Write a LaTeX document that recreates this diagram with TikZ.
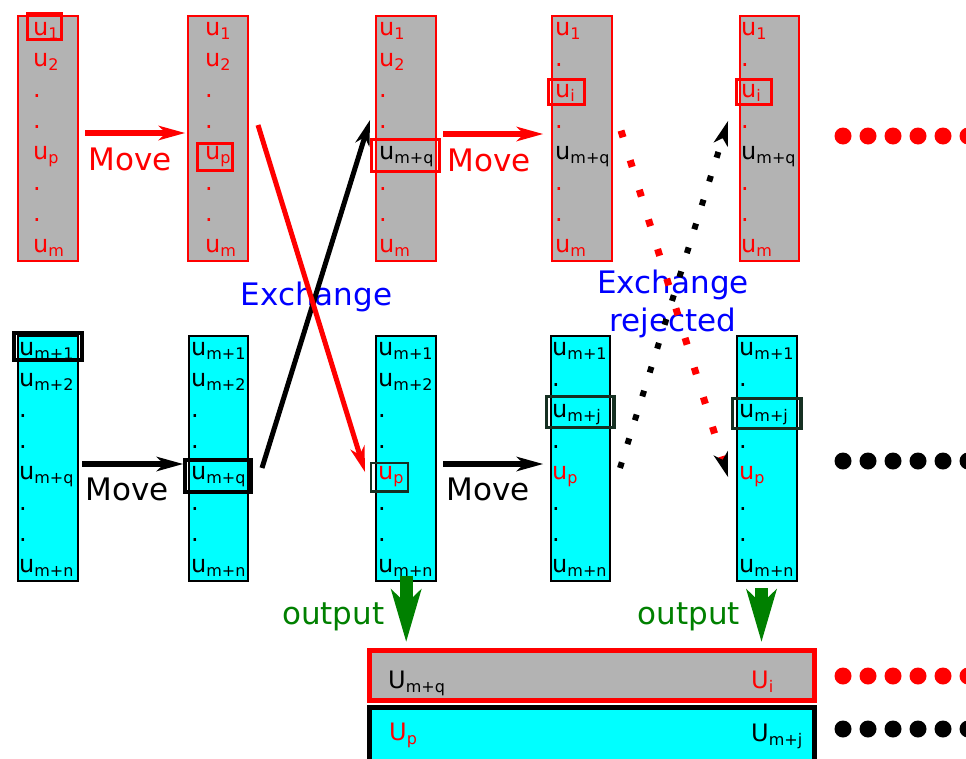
\documentclass[tikz,border=0pt]{standalone}
\usepackage{fontspec}
\setmainfont{DejaVu Sans}
\usetikzlibrary{arrows.meta}
\definecolor{boxgray}{RGB}{179,179,179}
\definecolor{boxcyan}{RGB}{0,255,255}
\definecolor{outgreen}{RGB}{0,128,0}
\definecolor{hldark}{RGB}{22,48,34}
% lowered, smaller index text
\newcommand\sbs[1]{\raisebox{-4pt}{\fontsize{16}{16}\selectfont #1}}
\newcommand\dt{.}
% eight entries of one column: name prefix, x, first baseline, colour, entries
\newcommand\colitems[5]{%
  \foreach \t [count=\k] in {#5}{%
    \pgfmathsetmacro\yy{#3+31*(\k-1)}%
    \node[cell, text=#4] (#1\k) at (#2,\yy) {\t};
  }}
\begin{document}
\begin{tikzpicture}[x=1pt,y=-1pt,
  topcol/.style={draw=red, fill=boxgray, line width=2pt, minimum width=59.5pt, minimum height=245pt, inner sep=0pt},
  botcol/.style={draw=black, fill=boxcyan, line width=2pt, minimum width=59.5pt, minimum height=245pt, inner sep=0pt},
  hlred/.style={draw=red, line width=3pt, inner sep=0pt},
  hlblack/.style={draw=black, line width=4pt, inner sep=0pt},
  hldk/.style={draw=hldark, line width=3.5pt, inner sep=0pt},
  cell/.style={anchor=base west, inner sep=0pt, font=\fontsize{24}{28}\selectfont},
  lbl/.style={anchor=base, inner sep=0pt, font=\fontsize{31}{38.4}\selectfont},
  mvarrow/.style={line width=6pt, -{Stealth[length=27pt,width=15pt,inset=8pt,line width=0pt]}},
  xarrow/.style={line width=5pt, -{Stealth[length=26pt,width=15pt,inset=8pt,line width=0pt]}},
  reddots/.style={red, line width=7pt, dash pattern=on 7pt off 24pt, -{Stealth[length=25pt,width=15pt,inset=7pt,line width=0pt,color=black]}},
  blackdots/.style={black, line width=6pt, dash pattern=on 6pt off 19pt, -{Stealth[length=25pt,width=15pt,inset=7pt,line width=0pt]}},
  outarrow/.style={outgreen, line width=13pt, -{Stealth[length=53pt,width=31pt,inset=15pt,line width=0pt]}},
]
\useasboundingbox (0,0) rectangle (966,758);
\clip (0,0) rectangle (966,758);

% columns
\node[topcol] (t1) at (47.85,138.3) {};
\node[topcol] (t2) at (218.2,138.3) {};
\node[topcol] (t3) at (406.2,138.3) {};
\node[topcol] (t4) at (582,138.3) {};
\node[topcol] (t5) at (769.5,138.3) {};
\node[botcol] (b1) at (47.85,458.3) {};
\node[botcol] (b2) at (218.5,458.3) {};
\node[botcol] (b3) at (406.2,458.3) {};
\node[botcol] (b4) at (580.4,458.3) {};
\node[botcol] (b5) at (767.2,458.3) {};

% selected entries
\node[hlred, minimum width=34.6pt, minimum height=25.7pt] (h1) at (44.5,26.65) {};
\node[hlred, minimum width=35.3pt, minimum height=27.6pt] (h2) at (214.85,157) {};
\node[hlred, minimum width=68pt, minimum height=32pt] (h3) at (405.5,155.5) {};
\node[hlred, minimum width=36pt, minimum height=25.3pt] (h4) at (566.2,91.85) {};
\node[hlred, minimum width=34.7pt, minimum height=25.3pt] (h5) at (753.85,91.85) {};
\node[hlblack, minimum width=68.3pt, minimum height=27.3pt] (g1) at (47.85,346.65) {};
\node[hlblack, minimum width=66.6pt, minimum height=32pt] (g2) at (218,476) {};
\node[hldk, line width=2.5pt, minimum width=36.6pt, minimum height=28.5pt] (g3) at (389.5,477.25) {};
\node[hldk, minimum width=67.5pt, minimum height=30.8pt] (g4) at (580.45,412.1) {};
\node[hldk, minimum width=68.3pt, minimum height=29.8pt] (g5) at (766.85,413.4) {};

% column entries
\colitems{t1r}{33}{35}{red}{u\sbs{1},u\sbs{2},\dt,\dt,u\sbs{p},\dt,\dt,u\sbs{m}}
\colitems{t2r}{205}{35}{red}{u\sbs{1},u\sbs{2},\dt,\dt,u\sbs{p},\dt,\dt,u\sbs{m}}
\colitems{t3r}{379}{35}{red}{u\sbs{1},u\sbs{2},\dt,\dt,{\color{black}u\sbs{m+q}},\dt,\dt,u\sbs{m}}
\colitems{t4r}{555}{35}{red}{u\sbs{1},\dt,u\sbs{i},\dt,{\color{black}u\sbs{m+q}},\dt,\dt,u\sbs{m}}
\colitems{t5r}{741}{35}{red}{u\sbs{1},\dt,u\sbs{i},\dt,{\color{black}u\sbs{m+q}},\dt,\dt,u\sbs{m}}
\colitems{b1r}{19}{355}{black}{u\sbs{m+1},u\sbs{m+2},\dt,\dt,u\sbs{m+q},\dt,\dt,u\sbs{m+n}}
\colitems{b2r}{191}{355}{black}{u\sbs{m+1},u\sbs{m+2},\dt,\dt,u\sbs{m+q},\dt,\dt,u\sbs{m+n}}
\colitems{b3r}{378}{355}{black}{u\sbs{m+1},u\sbs{m+2},\dt,\dt,{\color{red}u\sbs{p}},\dt,\dt,u\sbs{m+n}}
\colitems{b4r}{552}{355}{black}{u\sbs{m+1},\dt,u\sbs{m+j},\dt,{\color{red}u\sbs{p}},\dt,\dt,u\sbs{m+n}}
\colitems{b5r}{739}{355}{black}{u\sbs{m+1},\dt,u\sbs{m+j},\dt,{\color{red}u\sbs{p}},\dt,\dt,u\sbs{m+n}}

% move steps
\coordinate (mv1a) at (85,133);   \coordinate (mv1b) at (185,133);
\coordinate (mv2a) at (443,134);  \coordinate (mv2b) at (543,134);
\coordinate (mv3a) at (82,464);   \coordinate (mv3b) at (183,464);
\coordinate (mv4a) at (443,464);  \coordinate (mv4b) at (543,464);
\draw[mvarrow, red] (mv1a) -- (mv1b);
\draw[mvarrow, red] (mv2a) -- (mv2b);
\draw[mvarrow, black] (mv3a) -- (mv3b);
\draw[mvarrow, black] (mv4a) -- (mv4b);
\node[lbl, red] (mvl1) at (130,170) {Move};
\node[lbl, red] (mvl2) at (489,171.5) {Move};
\node[lbl, black] (mvl3) at (127,500) {Move};
\node[lbl, black] (mvl4) at (488,500) {Move};

% exchange
\node[lbl, blue] (xl) at (316.5,305) {Exchange};
\coordinate (xk0) at (262,468); \coordinate (xk1) at (370,120);
\coordinate (xr0) at (258,125); \coordinate (xr1) at (365,472);
\draw[xarrow, black] (xk0) -- (xk1);
\draw[xarrow, red] (xr0) -- (xr1);

% rejected exchange (base anchor sits on the last line)
\node[lbl, blue, align=center] (xrl) at (673,331.7) {Exchange\\rejected};
\coordinate (dr0) at (621,130.6); \coordinate (dr1) at (728,477);
\coordinate (dk0) at (620,468);   \coordinate (dk1) at (728,121);
\draw[reddots] (dr0) -- (dr1);
\draw[blackdots] (dk0) -- (dk1);

% continuation dots
\foreach \i in {0,...,5} {
  \fill[red]   (843+25*\i,136) circle (8.5);
  \fill[black] (843+25*\i,461) circle (8.5);
  \fill[red]   (843+25*\i,676) circle (8.5);
  \fill[black] (843+25*\i,729) circle (8.5);
}

% output rows
\node[draw=red, fill=boxgray, line width=5pt, minimum width=444.4pt, minimum height=49.7pt, inner sep=0pt] (ob1) at (592,675.65) {};
\node[draw=black, fill=boxcyan, line width=5pt, minimum width=444.7pt, minimum height=82.5pt, inner sep=0pt] (ob2) at (592.15,748.75) {};
\node[cell, text=black] (o1) at (388,688) {U\sbs{m+q}};
\node[cell, text=red] (o2) at (751,688) {U\sbs{i}};
\node[cell, text=red] (o3) at (389,740) {U\sbs{p}};
\node[cell, text=black] (o4) at (751,741) {U\sbs{m+j}};

% output arrows
\coordinate (oa0) at ([yshift=6.3]b3.south);
\coordinate (oa1) at (oa0 |- ob1.north);
\coordinate (ob0) at (761.5,588);
\coordinate (ob1t) at (ob0 |- ob1.north);
\draw[outarrow] (oa0) -- ([yshift=6.7]oa1);
\draw[outarrow] (ob0) -- ([yshift=6.7]ob1t);
\node[lbl, outgreen] (ol1) at (333.3,624) {output};
\node[lbl, outgreen] (ol2) at (688.8,624) {output};
\end{tikzpicture}
\end{document}
